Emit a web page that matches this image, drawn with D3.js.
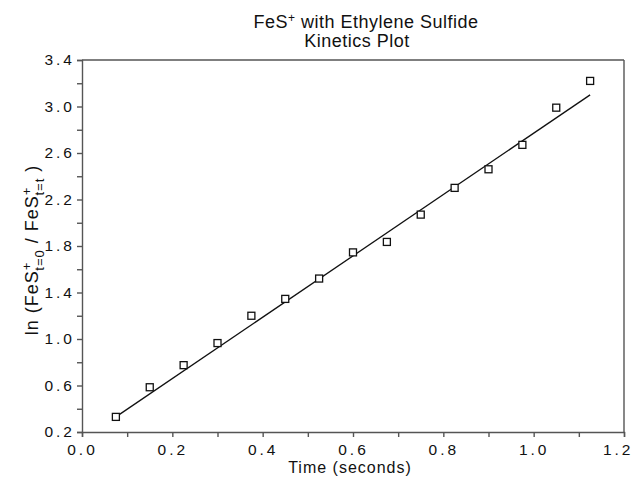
<!DOCTYPE html>
<html>
<head>
<meta charset="utf-8">
<script src="https://cdn.jsdelivr.net/npm/d3@7/dist/d3.min.js"></script>
<style>
	body { margin: 0; background: #fff; }
	text { font-family: "Liberation Sans", Arial, sans-serif; fill: #111; }
	.axis path, .axis line { stroke: #555; stroke-width: 1.4; }
	.axis text { font-size: 15.5px; letter-spacing: 3px; }
</style>
</head>
<body>
<div id="chart-area"></div>
<script>

// Dados
var times = [0.075, 0.15, 0.225, 0.30, 0.375, 0.45, 0.525, 0.60, 0.675, 0.75, 0.825, 0.90, 0.975, 1.05, 1.125];
var lnRatio = [0.33, 0.585, 0.775, 0.965, 1.20, 1.345, 1.52, 1.745, 1.835, 2.07, 2.30, 2.46, 2.67, 2.99, 3.22];
var fitTimes = [0.075, 1.125];
var fitValues = [0.33, 3.10];
var xTickValues = [0, 0.1, 0.2, 0.3, 0.4, 0.5, 0.6, 0.7, 0.8, 0.9, 1.0, 1.1, 1.2];
var yTickValues = [0.2, 0.4, 0.6, 0.8, 1.0, 1.2, 1.4, 1.6, 1.8, 2.0, 2.2, 2.4, 2.6, 2.8, 3.0, 3.2, 3.4];
var xLabelled = [0, 0.2, 0.4, 0.6, 0.8, 1.0, 1.2];
var yLabelled = [0.2, 0.6, 1.0, 1.4, 1.8, 2.2, 2.6, 3.0, 3.4];

var margin = { left: 82, right: 11, top: 60, bottom: 52 };
var width = 635 - margin.left - margin.right;
var height = 484 - margin.top - margin.bottom;

var svg = d3.select("#chart-area")
			.append("svg")
			.attr("width", 635)
			.attr("height", 484);

var g = svg.append("g")
			.attr("transform", "translate(" + margin.left + "," + margin.top + ")");

var x = d3.scaleLinear()
			.domain([0, 1.2])
			.range([0, width]);

var y = d3.scaleLinear()
			.domain([0.2, 3.4])
			.range([height, 0]);

function isLabelled(list, v){
	return list.some(function(l){ return Math.abs(l - v) < 1e-6; });
}

// eixos
var xAxis = d3.axisBottom(x)
			.tickValues(xTickValues)
			.tickSize(5)
			.tickPadding(7)
			.tickFormat(function(d){
				return isLabelled(xLabelled, d) ? d3.format(".1f")(d) : "";
			});

var yAxis = d3.axisLeft(y)
			.tickValues(yTickValues)
			.tickSize(5)
			.tickPadding(2)
			.tickFormat(function(d){
				return isLabelled(yLabelled, d) ? d3.format(".1f")(d) : "";
			});

var gx = g.append("g")
	.attr("class", "axis")
	.attr("transform", "translate(0," + height + ")")
	.call(xAxis);

// ultimo rotulo encostado na borda
gx.selectAll(".tick text")
	.filter(function(d){ return d === 1.2; })
	.attr("text-anchor", "end")
	.attr("x", 9);

g.append("g")
	.attr("class", "axis")
	.call(yAxis);

// moldura superior e direita
g.append("line")
	.attr("x1", 0).attr("x2", width)
	.attr("y1", 0).attr("y2", 0)
	.attr("stroke", "#555")
	.attr("stroke-width", 1.4);

g.append("line")
	.attr("x1", width).attr("x2", width)
	.attr("y1", 0).attr("y2", height)
	.attr("stroke", "#555")
	.attr("stroke-width", 1.4);

// reta ajustada
var fit = fitTimes.map(function(t, i){ return [t, fitValues[i]]; });
g.append("path")
	.datum(fit)
	.attr("fill", "none")
	.attr("stroke", "#111")
	.attr("stroke-width", 1.3)
	.attr("d", d3.line()
		.x(function(d){ return x(d[0]); })
		.y(function(d){ return y(d[1]); }));

// pontos
var points = times.map(function(t, i){ return { t: t, v: lnRatio[i] }; });
g.selectAll("rect.pt")
	.data(points)
	.enter()
	.append("rect")
	.attr("class", "pt")
	.attr("x", function(d){ return x(d.t) - 3.5; })
	.attr("y", function(d){ return y(d.v) - 3.5; })
	.attr("width", 7)
	.attr("height", 7)
	.attr("fill", "#fff")
	.attr("stroke", "#111")
	.attr("stroke-width", 1.3);

// titulo
var t1 = svg.append("text")
	.attr("x", 366)
	.attr("y", 28)
	.attr("text-anchor", "middle")
	.style("font-size", "18px")
	.style("letter-spacing", "0.5px");
t1.append("tspan").text("FeS");
t1.append("tspan").attr("dy", -6).style("font-size", "12px").text("+");
t1.append("tspan").attr("dy", 6).text(" with Ethylene Sulfide");

svg.append("text")
	.attr("x", 357)
	.attr("y", 47)
	.attr("text-anchor", "middle")
	.style("font-size", "18px")
	.style("letter-spacing", "0.5px")
	.text("Kinetics Plot");

// rotulo eixo x
svg.append("text")
	.attr("x", 350)
	.attr("y", 473)
	.attr("text-anchor", "middle")
	.style("font-size", "16px")
	.style("letter-spacing", "1px")
	.text("Time  (seconds)");

// rotulo eixo y
var yl = svg.append("text")
	.attr("transform", "translate(38,250) rotate(-90)")
	.attr("text-anchor", "middle")
	.style("font-size", "18px")
	.style("letter-spacing", "1px");
yl.append("tspan").text("ln (FeS");
yl.append("tspan").attr("dy", -7).style("font-size", "13px").text("+");
yl.append("tspan").attr("dx", -9).attr("dy", 13).style("font-size", "13px").text("t=0");
yl.append("tspan").attr("dy", -6).text(" / FeS");
yl.append("tspan").attr("dy", -7).style("font-size", "13px").text("+");
yl.append("tspan").attr("dx", -9).attr("dy", 13).style("font-size", "13px").text("t=t");
yl.append("tspan").attr("dy", -6).text(" )");

</script>
</body>
</html>
